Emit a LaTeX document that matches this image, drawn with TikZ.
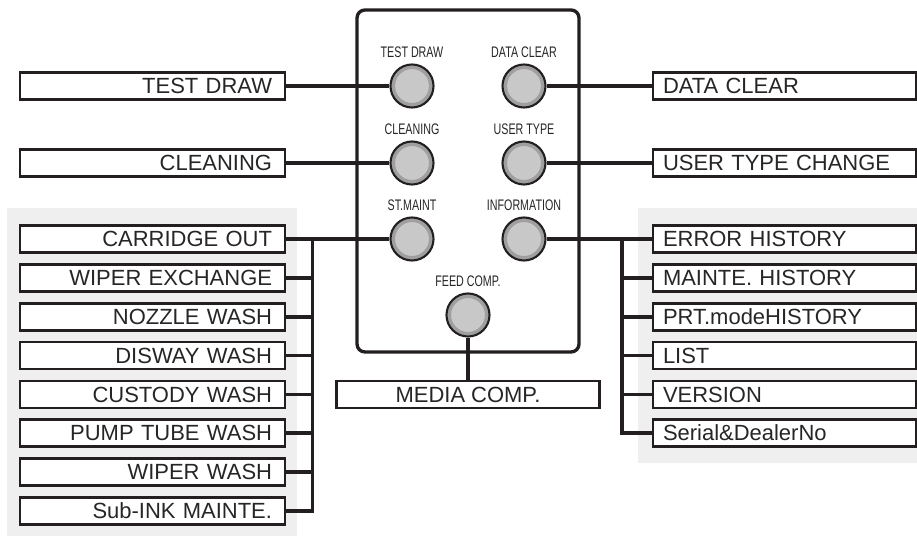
\documentclass[tikz,border=0pt]{standalone}
\usepackage{fontspec}
\setmainfont{Liberation Sans}
\newfontfamily\btnfont[FakeStretch=0.7]{Liberation Sans}
\usetikzlibrary{positioning}
\definecolor{ink}{RGB}{35,31,32}
\definecolor{bggray}{RGB}{239,239,239}
\definecolor{btngray}{RGB}{200,200,200}

\begin{document}
\begin{tikzpicture}[
  menubox/.style={draw=ink, line width=1.3pt, fill=white, minimum height=0.54cm,
                  inner ysep=0pt, text height=9pt, text depth=0pt, text=black!85,
                  font=\fontsize{12.5}{14}\selectfont},
  lbox/.style={menubox, inner xsep=0.26cm, text width=4.78cm, align=right},
  rbox/.style={menubox, inner xsep=0.2cm, text width=4.86cm, align=left},
  btn/.style={circle, draw=ink, line width=1.2pt, fill=btngray, minimum size=0.86cm, inner sep=0pt,
              path picture={\draw[gray!75, line width=2pt]
                (path picture bounding box.center) circle (0.375cm);}},
  btnlabel/.style={inner sep=0pt, text height=6.3pt, text depth=0pt, text=black!85,
                   font=\btnfont\fontsize{8.7}{10}\selectfont},
  wire/.style={draw=ink, line width=2pt}
]
\useasboundingbox (0,0) rectangle (18.34,-10.72);

% --- Grey backgrounds of the two menu groups ---
\fill[bggray] (0.14,-4.16) rectangle (5.94,-10.72);
\fill[bggray] (12.76,-4.16) rectangle (18.34,-9.26);

% --- Operation panel ---
\node[draw=ink, line width=1.9pt, rounded corners=0.16cm,
      minimum width=4.44cm, minimum height=6.84cm] (panel) at (9.36,-3.62) {};

% --- Keys ---
\node[btn] (tdbtn) at (8.24,-1.72) {};
\node[btn] (dcbtn) at (10.48,-1.72) {};
\node[btn] (clbtn) at (8.24,-3.26) {};
\node[btn] (utbtn) at (10.48,-3.26) {};
\node[btn] (smbtn) at (8.24,-4.78) {};
\node[btn] (inbtn) at (10.48,-4.78) {};
\node[btn] (fcbtn) at (9.36,-6.30) {};

\node[btnlabel, above=0.12cm of tdbtn] (tdlab) {TEST DRAW};
\node[btnlabel, above=0.12cm of dcbtn] (dclab) {DATA CLEAR};
\node[btnlabel, above=0.12cm of clbtn] (cllab) {CLEANING};
\node[btnlabel, above=0.12cm of utbtn] (utlab) {USER TYPE};
\node[btnlabel, above=0.12cm of smbtn] (smlab) {ST.MAINT};
\node[btnlabel, above=0.12cm of inbtn] (inlab) {INFORMATION};
\node[btnlabel, above=0.12cm of fcbtn] (fclab) {FEED COMP.};

% --- Left menus ---
\node[lbox] (td) at (3.05,-1.72) {TEST DRAW};
\node[lbox] (cl) at (3.05,-3.26) {CLEANING};
\node[lbox] (co) at (3.05,-4.78) {CARRIDGE OUT};
\node[lbox] (we) at (3.05,-5.56) {WIPER EXCHANGE};
\node[lbox] (nw) at (3.05,-6.34) {NOZZLE WASH};
\node[lbox] (dw) at (3.05,-7.11) {DISWAY WASH};
\node[lbox] (cw) at (3.05,-7.89) {CUSTODY WASH};
\node[lbox] (pw) at (3.05,-8.66) {PUMP TUBE WASH};
\node[lbox] (ww) at (3.05,-9.44) {WIPER WASH};
\node[lbox] (si) at (3.05,-10.22) {Sub-INK MAINTE.};

% --- Right menus ---
\node[rbox] (dc) at (15.69,-1.72) {DATA CLEAR};
\node[rbox] (ut) at (15.69,-3.26) {USER TYPE CHANGE};
\node[rbox] (eh) at (15.69,-4.78) {ERROR HISTORY};
\node[rbox] (mh) at (15.69,-5.56) {MAINTE. HISTORY};
\node[rbox] (ph) at (15.69,-6.34) {PRT.modeHISTORY};
\node[rbox] (ls) at (15.69,-7.11) {LIST};
\node[rbox] (vr) at (15.69,-7.89) {VERSION};
\node[rbox] (sd) at (15.69,-8.66) {Serial\&DealerNo};

% --- Bottom menu ---
\node[menubox, minimum width=5.26cm] (mc) at (9.36,-7.89) {MEDIA COMP.};

% --- Single connections ---
\draw[wire] (td) -- (tdbtn);
\draw[wire] (cl) -- (clbtn);
\draw[wire] (dcbtn) -- (dc);
\draw[wire] (utbtn) -- (ut);
\draw[wire] (fcbtn) -- (mc);

% --- ST.MAINT tree ---
\coordinate (ltrunk) at (6.25,-4.78);
\draw[wire] (co) -- (smbtn);
\draw[wire] (si.east) -| (ltrunk);
\draw[wire] (we.east) -- (we.east -| ltrunk);
\draw[wire] (nw.east) -- (nw.east -| ltrunk);
\draw[wire] (dw.east) -- (dw.east -| ltrunk);
\draw[wire] (cw.east) -- (cw.east -| ltrunk);
\draw[wire] (pw.east) -- (pw.east -| ltrunk);
\draw[wire] (ww.east) -- (ww.east -| ltrunk);

% --- INFORMATION tree ---
\coordinate (rtrunk) at (12.44,-4.78);
\draw[wire] (inbtn) -- (eh);
\draw[wire] (sd.west) -| (rtrunk);
\draw[wire] (mh.west) -- (mh.west -| rtrunk);
\draw[wire] (ph.west) -- (ph.west -| rtrunk);
\draw[wire] (ls.west) -- (ls.west -| rtrunk);
\draw[wire] (vr.west) -- (vr.west -| rtrunk);

\end{tikzpicture}
\end{document}
